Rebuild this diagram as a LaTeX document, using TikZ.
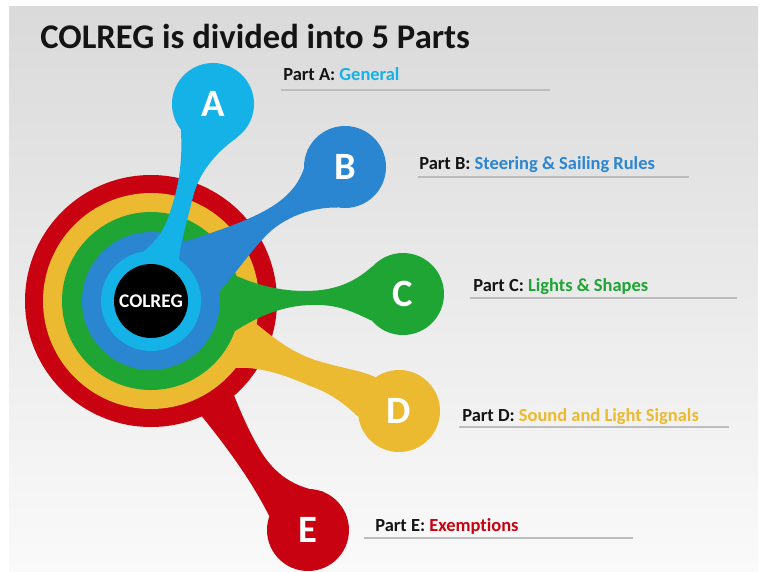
\documentclass[tikz,border=0pt]{standalone}
\usepackage{fontspec}
\setmainfont{Carlito}[Ligatures=NoCommon]
\definecolor{colA}{RGB}{20,178,230}
\definecolor{colB}{RGB}{42,134,209}
\definecolor{colC}{RGB}{30,165,52}
\definecolor{colD}{RGB}{236,186,48}
\definecolor{colE}{RGB}{200,2,16}
\definecolor{bgtop}{RGB}{218,218,218}
\definecolor{bgbot}{RGB}{250,250,250}
\definecolor{rulegray}{RGB}{188,188,188}
\definecolor{ink}{RGB}{20,20,20}
\tikzset{
  bulb/.style={circle, minimum size=1.64cm, inner sep=0, text=white, font=\bfseries\fontsize{22}{22}\selectfont},
  rule/.style={rulegray, line width=1.3pt},
  partlbl/.style={anchor=base west, inner sep=0, text=ink, font=\bfseries\fontsize{10.5}{12}\selectfont},
}
\begin{document}
\begin{tikzpicture}[x=0.02cm, y=0.02cm]
	\useasboundingbox (0,0) rectangle (760,-571);
	\shade[top color=bgtop, bottom color=bgbot] (9,-7) rectangle (758,-571);
	\node[anchor=base west, inner sep=0, text=ink, font=\bfseries\fontsize{19.7}{20}\selectfont] (title) at (40,-49) {COLREG is divided into 5 Parts};
	% the five bulbs
	\foreach \n/\x/\y/\col in {A/213/104/colA, B/345/167/colB, C/403/294/colC, D/399/411/colD, E/308/530/colE}{
		\node[bulb, fill=\col] (\n) at (\x,-\y) {\n};
	}
	\coordinate (O) at (151,-301);
	% rings, outer first, each with its stem
	\fill[colE] (O) circle (126);
	\fill[colE] (195,-405) -- (200,-414) .. controls (225,-445) and (250,-478) .. (E.160) -- (E.68) .. controls (295,-488) and (275,-475) .. (260,-450) .. controls (248,-430) and (240,-410) .. (233,-393) -- (220,-390) -- cycle;
	\fill[colD] (O) circle (108);
	\fill[colD] (225,-320) -- (245,-315) .. controls (265,-330) and (285,-350) .. (315,-360) .. controls (340,-368) and (360,-370) .. (D.125) -- (D.188) .. controls (343,-402) and (328,-392) .. (310,-386) .. controls (285,-375) and (260,-366) .. (232,-368) -- (225,-340) -- cycle;
	\fill[colC] (O) circle (89);
	\fill[colC] (215,-275) -- (230,-273) .. controls (255,-285) and (280,-291) .. (305,-291) .. controls (335,-291) and (355,-282) .. (C.138) -- (C.220) .. controls (350,-310) and (335,-304) .. (310,-305) .. controls (280,-306) and (255,-318) .. (232,-333) -- (215,-325) -- cycle;
	\fill[colB] (O) circle (69);
	\fill[colB] (165,-255) -- (180,-243) .. controls (215,-232) and (245,-222) .. (268,-209) .. controls (290,-196) and (305,-180) .. (B.154) -- (B.259) .. controls (315,-207) and (290,-215) .. (272,-230) .. controls (255,-245) and (240,-268) .. (219,-292) -- (205,-300) -- cycle;
	\fill[colA] (O) circle (50);
	\fill[colA] (151,-275) -- (128,-262) .. controls (145,-252) and (160,-240) .. (168,-218) .. controls (178,-190) and (183,-165) .. (A.219) -- (A.306) .. controls (222,-148) and (200,-168) .. (193,-197) .. controls (186,-225) and (180,-245) .. (178,-265) -- (170,-285) -- cycle;
	\node[circle, fill=black, minimum size=1.48cm, inner sep=0, text=white, font=\bfseries\fontsize{11}{11}\selectfont] (ctr) at (O) {COLREG};
	% labels with their rules
	\foreach \n/\x/\y/\col/\txt/\rx/\ry/\len in {A/283/81/colA/General/281/90/269, B/419/169/colB/{Steering \& Sailing Rules}/418/177/271, C/473/291/colC/{Lights \& Shapes}/470/298/267, D/462/421/colD/{Sound and Light Signals}/459/427/270, E/375/531/colE/Exemptions/364/538/269}{
		\node[partlbl] (lbl\n) at (\x,-\y) {Part \n: \textcolor{\col}{\txt}};
		\draw[rule] (\rx,-\ry) -- ++(\len,0);
	}
\end{tikzpicture}
\end{document}
